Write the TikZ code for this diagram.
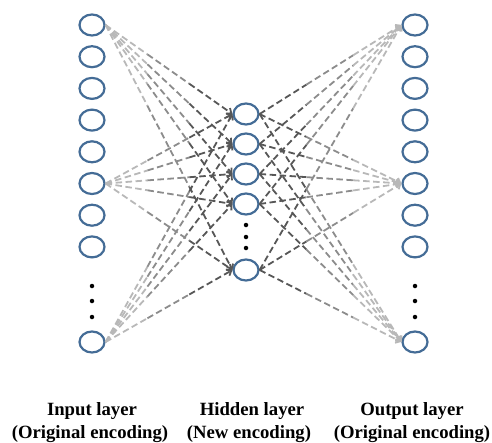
\documentclass[tikz,border=0pt]{standalone}
\usepackage{fontspec}
\setmainfont{Liberation Serif}
\usetikzlibrary{shapes.geometric,arrows.meta,calc}
\definecolor{nodeblue}{RGB}{68,108,150}
\tikzset{
  neuron/.style={ellipse, draw=nodeblue, line width=2.2pt, minimum width=25pt, minimum height=21pt, inner sep=0pt},
  vdot/.style={circle, fill=black, inner sep=0pt, minimum size=4.5pt},
  conn/.style={dash pattern=on 6.5pt off 3.5pt, line width=1.8pt},
  tipdark/.style={-{Straight Barb[length=4pt,width=7pt]}},
  lbl/.style={font=\bfseries\fontsize{18.7}{22}\selectfont, anchor=base, inner sep=0pt}
}
\begin{document}
\begin{tikzpicture}[x=1pt,y=-1pt]
\useasboundingbox (0,0) rectangle (492,442);
% input layer
\foreach \k in {1,...,8} { \node[neuron] (i\k) at (92,{25+31.7*(\k-1)}) {}; }
\node[neuron] (i9) at (92,342) {};
\node[vdot] (id1) at (92,286) {};
\node[vdot] (id2) at (92,301) {};
\node[vdot] (id3) at (92,317) {};
% hidden layer
\node[neuron] (h1) at (246,114) {};
\node[neuron] (h2) at (246,144) {};
\node[neuron] (h3) at (246,174) {};
\node[neuron] (h4) at (246,204) {};
\node[neuron] (h5) at (246,270) {};
\node[vdot] (hd1) at (246,225) {};
\node[vdot] (hd2) at (246,237) {};
\node[vdot] (hd3) at (246,248) {};
% output layer
\foreach \k in {1,...,8} { \node[neuron] (o\k) at (415,{25+31.7*(\k-1)}) {}; }
\node[neuron] (o9) at (415,342) {};
\node[vdot] (od1) at (415,286) {};
\node[vdot] (od2) at (415,301) {};
\node[vdot] (od3) at (415,317) {};
% connections input -> hidden
\foreach \s in {1,6,9} {
  \foreach \h in {1,...,5} {
    \draw[conn, color=black!28] (i\s.east) -- ($(i\s.east)!0.33!(h\h.west)$);
    \draw[conn, color=black!45] ($(i\s.east)!0.33!(h\h.west)$) -- ($(i\s.east)!0.66!(h\h.west)$);
    \draw[conn, color=black!66, tipdark] ($(i\s.east)!0.66!(h\h.west)$) -- (h\h.west);
  }
}
% connections hidden -> output
\foreach \s in {1,6,9} {
  \foreach \h in {1,...,5} {
    \draw[conn, color=black!66] (h\h.east) -- ($(h\h.east)!0.33!(o\s.west)$);
    \draw[conn, color=black!45] ($(h\h.east)!0.33!(o\s.west)$) -- ($(h\h.east)!0.66!(o\s.west)$);
    \draw[conn, color=black!28, tipdark] ($(h\h.east)!0.66!(o\s.west)$) -- (o\s.west);
  }
}
% labels
\node[lbl] (l1a) at (92,415) {Input layer};
\node[lbl] (l1b) at (90,438) {(Original encoding)};
\node[lbl] (l2a) at (252,415) {Hidden layer};
\node[lbl] (l2b) at (249,438) {(New encoding)};
\node[lbl] (l3a) at (412,415) {Output layer};
\node[lbl] (l3b) at (412,438) {(Original encoding)};
\end{tikzpicture}
\end{document}
